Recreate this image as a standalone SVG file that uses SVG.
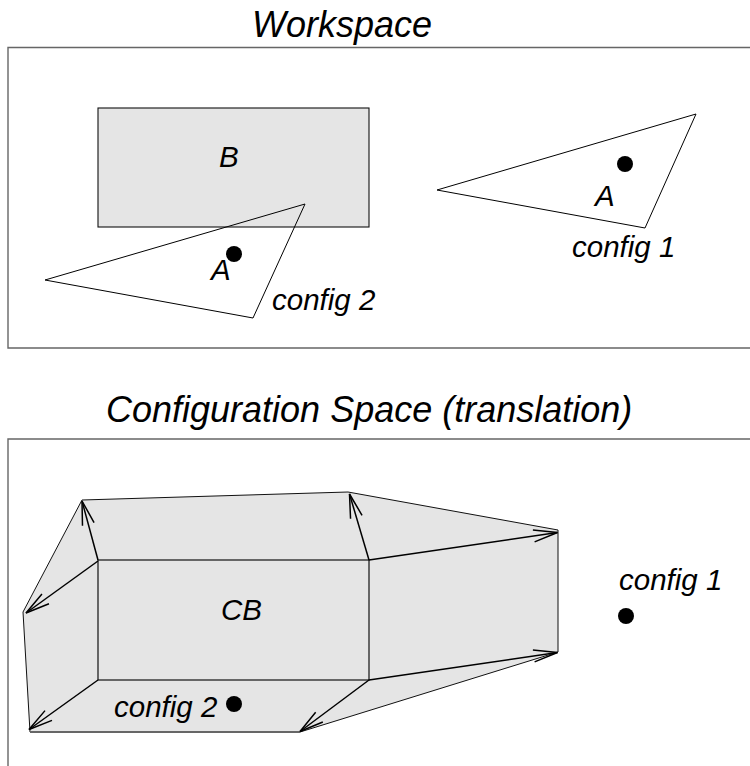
<svg xmlns="http://www.w3.org/2000/svg" width="750" height="766" viewBox="0 0 750 766">
  <style>
    .frame { fill: none; stroke: #666; stroke-width: 1.4; }
    .title { font-family: "Liberation Sans", Arial, sans-serif; font-style: italic; font-size: 36px; fill: #000; }
    .label { font-family: "Liberation Sans", Arial, sans-serif; font-style: italic; font-size: 29.5px; fill: #000; }
    .obstacle { fill: #e5e5e5; stroke: #111; stroke-width: 1.1; }
    .robot { fill: none; stroke: #000; stroke-width: 1; }
    .ref { fill: #000; }
    .vec { fill: none; stroke: #000; stroke-width: 1.5; marker-end: url(#head); }
  </style>
  <defs>
    <marker id="head" markerUnits="userSpaceOnUse" markerWidth="30" markerHeight="16" orient="auto" overflow="visible" refX="0" refY="0">
      <path d="M-24,-6 L0,0 L-24,6" fill="none" stroke="#000" stroke-width="1.5"/>
    </marker>
  </defs>

  <rect width="750" height="766" fill="#fff"/>

  <!-- Workspace panel -->
  <g id="workspace">
    <text class="title" x="252" y="37">Workspace</text>
    <path class="frame" d="M750,47.5 H8 V348 H750"/>
  </g>

  <g id="obstacle-B">
    <rect class="obstacle" x="98" y="108" width="271" height="119"/>
    <text class="label" x="219" y="167">B</text>
  </g>

  <g id="robot-config2">
    <polygon class="robot" points="45,280 305,204 253,318"/>
    <circle class="ref" cx="234" cy="254" r="8"/>
    <text class="label" x="211" y="280">A</text>
    <text class="label" x="272" y="310">config 2</text>
  </g>

  <g id="robot-config1">
    <polygon class="robot" points="437,190 696,114 645,228"/>
    <circle class="ref" cx="625" cy="164" r="8"/>
    <text class="label" x="595" y="206">A</text>
    <text class="label" x="572" y="257">config 1</text>
  </g>

  <!-- Configuration space panel -->
  <g id="cspace">
    <text class="title" x="106" y="422">Configuration Space (translation)</text>
    <path class="frame" d="M750,439 H8 V766"/>
  </g>

  <g id="cobstacle-CB">
    <polygon points="82,500 348,492 558,530 558,652 300,732 30,732 23,612" fill="#e5e5e5" stroke="#111" stroke-width="1"/>
    <line x1="30" y1="732" x2="300" y2="732" stroke="#666" stroke-width="1.8"/>
    <rect x="98" y="560" width="271" height="120" fill="none" stroke="#111" stroke-width="1.2"/>
    <text class="label" x="221" y="620">CB</text>
  </g>

  <g id="point-config2">
    <circle class="ref" cx="234" cy="704" r="8"/>
    <text class="label" x="114" y="717">config 2</text>
  </g>

  <g id="point-config1">
    <circle class="ref" cx="626" cy="616" r="8"/>
    <text class="label" x="619" y="590">config 1</text>
  </g>

  <!-- translation vectors from the corners of B -->
  <g id="connectors">
    <line class="vec" x1="98" y1="560" x2="82" y2="501"/>
    <line class="vec" x1="98" y1="561" x2="26" y2="613"/>
    <line class="vec" x1="98" y1="680" x2="29" y2="729.5"/>
    <line class="vec" x1="369" y1="560" x2="349.5" y2="494"/>
    <line class="vec" x1="369" y1="560" x2="557.5" y2="532.5"/>
    <line class="vec" x1="369" y1="680" x2="557.5" y2="652.5"/>
    <line class="vec" x1="369" y1="680" x2="300" y2="731.5"/>
  </g>
</svg>
